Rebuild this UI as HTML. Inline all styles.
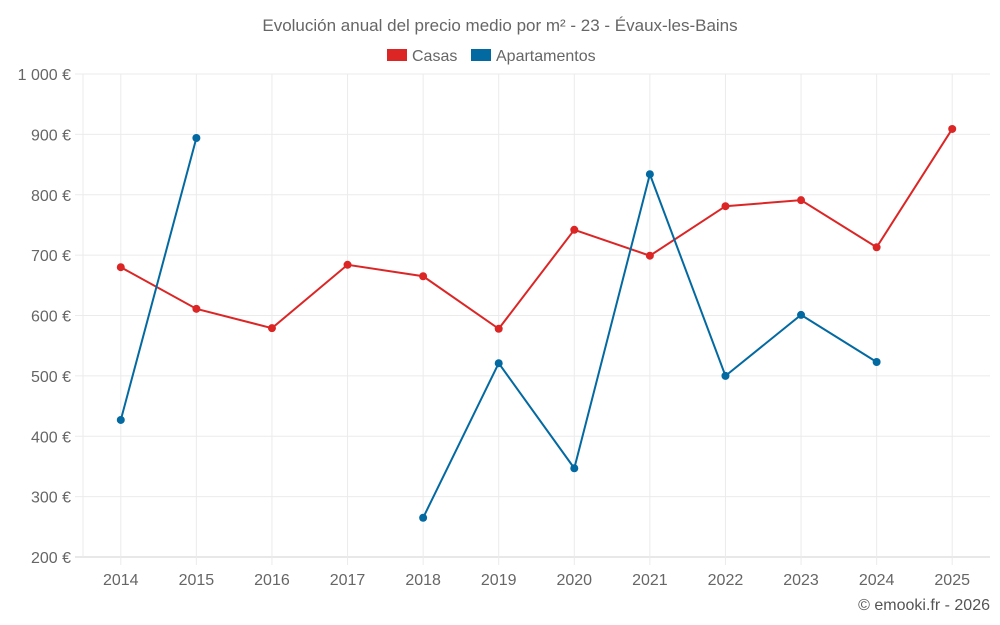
<!DOCTYPE html>
<html><head><meta charset="utf-8">
<style>
html,body{margin:0;padding:0;background:#fff;}
svg{display:block;font-family:"Liberation Sans",sans-serif;}
</style></head>
<body>
<svg id="chart" width="1000" height="625" viewBox="0 0 1000 625">
  <text x="500" y="31" text-anchor="middle" font-size="17" fill="#666">Evolución anual del precio medio por m² - 23 - Évaux-les-Bains</text>
  <g>
    <g>
      <rect x="387" y="49" width="20" height="12" fill="#dc2626"/>
      <text x="412" y="61" font-size="16" fill="#666">Casas</text>
    </g>
    <g>
      <rect x="471" y="49" width="20" height="12" fill="#0369a1"/>
      <text x="496" y="61" font-size="16" fill="#666">Apartamentos</text>
    </g>
  </g>
  <g id="grid"></g>
  <g id="axes"></g>
  <g id="series"></g>
  <text x="990" y="610" text-anchor="end" font-size="16" fill="#555">© emooki.fr - 2026</text>
</svg>
<script>
const years = ["2014","2015","2016","2017","2018","2019","2020","2021","2022","2023","2024","2025"];
const casas = [680,611,579,684,665,578,742,699,781,791,713,909];
const apartamentos = [427,894,null,null,265,521,347,834,500,601,523,null];
const yTicks = [200,300,400,500,600,700,800,900,1000];
const yTickLabels = ["200 €","300 €","400 €","500 €","600 €","700 €","800 €","900 €","1 000 €"];

const L=83,R=990,T=74,B=557,yMin=200,yMax=1000;
const band=(R-L)/years.length;
const xPos=i=>L+band*(i+0.5);
const yPos=v=>B-(v-yMin)/(yMax-yMin)*(B-T);
const NS="http://www.w3.org/2000/svg";
function mk(tag,attrs,parent){const e=document.createElementNS(NS,tag);for(const k in attrs)e.setAttribute(k,attrs[k]);parent.appendChild(e);return e;}
const grid=document.getElementById('grid'),axes=document.getElementById('axes'),series=document.getElementById('series');

yTicks.forEach((v,i)=>{
  const y=yPos(v);
  const l=mk('line',{x1:L-8,x2:R,y1:y,y2:y,stroke:i===0?'#d0d0d0':'#ebebeb','stroke-width':1},grid);
  
  
  const t=mk('text',{x:L-12,y:y+6,'text-anchor':'end','font-size':16,fill:'#666'},axes);
  t.textContent=yTickLabels[i];
  
  
});
{
  const l=mk('line',{x1:L,x2:L,y1:T,y2:B,stroke:'#ebebeb','stroke-width':1},grid);
  
  
}
years.forEach((yr,i)=>{
  const x=xPos(i);
  const l=mk('line',{x1:x,x2:x,y1:T,y2:B+8,stroke:'#ebebeb','stroke-width':1},grid);
  
  
  const t=mk('text',{x:x,y:B+28,'text-anchor':'middle','font-size':16,fill:'#666'},axes);
  t.textContent=yr;
  
  
});
function drawSeries(vals,color,name){
  let segs=[],cur=[];
  vals.forEach((v,i)=>{if(v==null){if(cur.length)segs.push(cur);cur=[];}else cur.push([xPos(i),yPos(v)]);});
  if(cur.length)segs.push(cur);
  segs.forEach(s=>{
    const p=mk('polyline',{points:s.map(q=>q.join(',')).join(' '),fill:'none',stroke:color,'stroke-width':2},series);
    
    
  });
  vals.forEach((v,i)=>{
    if(v==null)return;
    const c=mk('circle',{cx:xPos(i),cy:yPos(v),r:4,fill:color},series);
    
    
  });
}
drawSeries(casas,'#dc2626','casas');
drawSeries(apartamentos,'#0369a1','apartamentos');
</script>
</body></html>
